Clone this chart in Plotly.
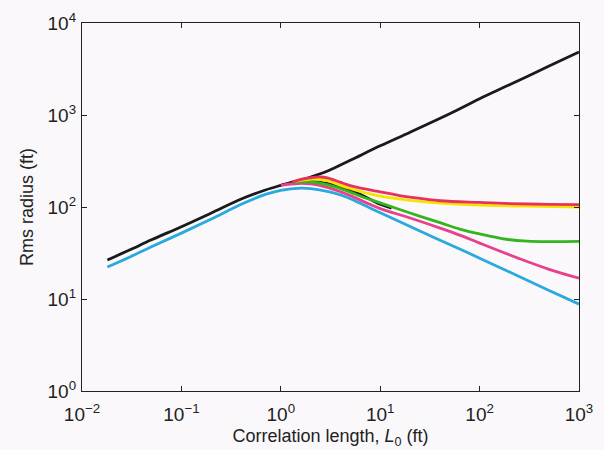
import plotly.graph_objects as go

# Rms radius (ft) versus correlation length L0 (ft)
black_L = [0.018, 0.03, 0.05, 0.1, 0.2, 0.4, 0.7, 1, 1.5, 2, 3, 5, 10, 20, 50, 100, 200, 500, 1000]
black_r = [26.5, 34, 44, 61, 86, 122, 153, 172, 194, 212, 248, 322, 462, 650, 1030, 1500, 2130, 3400, 4850]

cyan_L = [0.018, 0.03, 0.05, 0.1, 0.2, 0.4, 0.7, 1, 1.6, 2, 3, 4, 5, 7, 10, 20, 40, 63, 100, 250, 500, 1000]
cyan_r = [22.3, 28.5, 37, 52, 74, 107, 137, 152, 160, 158, 147, 135, 123, 104, 86.5, 61.5, 43.5, 35, 27.8, 17.6, 12.4, 8.8]

magenta_L = [1, 1.5, 2, 3, 4, 5, 7, 10, 20, 40, 63, 100, 250, 500, 1000]
magenta_r = [172, 180, 178, 162, 146, 133, 113, 96, 76, 59, 49.5, 40.5, 27.5, 21, 16.8]

black2_L = [1.35, 2, 3, 4, 5, 7, 10, 13]
black2_r = [189, 190, 179, 165, 153, 130, 107, 97]

green_L = [1.3, 2, 3, 4, 5, 7, 10, 20, 40, 63, 100, 185, 300, 500, 1000]
green_r = [187, 187, 174, 158, 145, 126, 111, 86, 67.5, 57.6, 51, 44.6, 42.5, 42, 42.2]

yellow_L = [1.4, 2, 2.5, 3, 4, 5, 7, 10, 20, 40, 100, 300, 1000]
yellow_r = [191, 200, 199, 192, 172, 159, 143, 131, 118, 110, 105, 102, 100]

red_L = [1.3, 1.6, 2, 2.5, 3, 4, 5, 7, 10, 15.7, 20, 40, 100, 200, 500, 1000]
red_r = [187, 200, 208, 212, 206, 185, 171, 157, 146, 133, 128, 117, 112, 109, 107, 106]

x_ticks = [0.01, 0.1, 1, 10, 100, 1000]
x_ticktext = ["10<sup>\u22122</sup>", "10<sup>\u22121</sup>", "10<sup>0</sup>",
              "10<sup>1</sup>", "10<sup>2</sup>", "10<sup>3</sup>"]
y_ticks = [1, 10, 100, 1000, 10000]
y_ticktext = ["10<sup>0</sup>", "10<sup>1</sup>", "10<sup>2</sup>",
              "10<sup>3</sup>", "10<sup>4</sup>"]

series = [
    (black_L, black_r, "#1a1a1a"),
    (black2_L, black2_r, "#1a1a1a"),
    (cyan_L, cyan_r, "#2aa9de"),
    (magenta_L, magenta_r, "#e8408c"),
    (green_L, green_r, "#36b41e"),
    (yellow_L, yellow_r, "#f6e400"),
    (red_L, red_r, "#e8325c"),
]

fig = go.Figure()
for xs, ys, col in series:
    fig.add_trace(go.Scatter(x=xs, y=ys, mode="lines",
                             line=dict(color=col, width=2.8, shape="spline", smoothing=1.0),
                             showlegend=False, hoverinfo="skip"))

bg = "#fbf8fb"
font_family = "Liberation Sans, Arial, sans-serif"
axis_common = dict(
    type="log", showgrid=False, zeroline=False, automargin=False,
    showline=True, linecolor="#222222", linewidth=1.3, mirror="ticks",
    ticks="inside", ticklen=5, tickwidth=1.3, tickcolor="#222222",
    tickfont=dict(family=font_family, size=19, color="#222222"),
)

fig.update_layout(
    width=604, height=450,
    margin=dict(l=82, r=25, t=23, b=59),
    paper_bgcolor=bg, plot_bgcolor=bg,
    font=dict(family=font_family, color="#222222"),
    xaxis=dict(axis_common, range=[-2, 3], tickvals=x_ticks, ticktext=x_ticktext,
               ticklabelstandoff=6,
               title=dict(text="Correlation length, <i>L</i><sub>0</sub> (ft)",
                          font=dict(size=18), standoff=5)),
    yaxis=dict(axis_common, range=[0, 4], tickvals=y_ticks, ticktext=y_ticktext,
               ticklabelstandoff=1,
               title=dict(text="Rms radius (ft)", font=dict(size=18), standoff=9)),
)

fig.write_html("out.html")
